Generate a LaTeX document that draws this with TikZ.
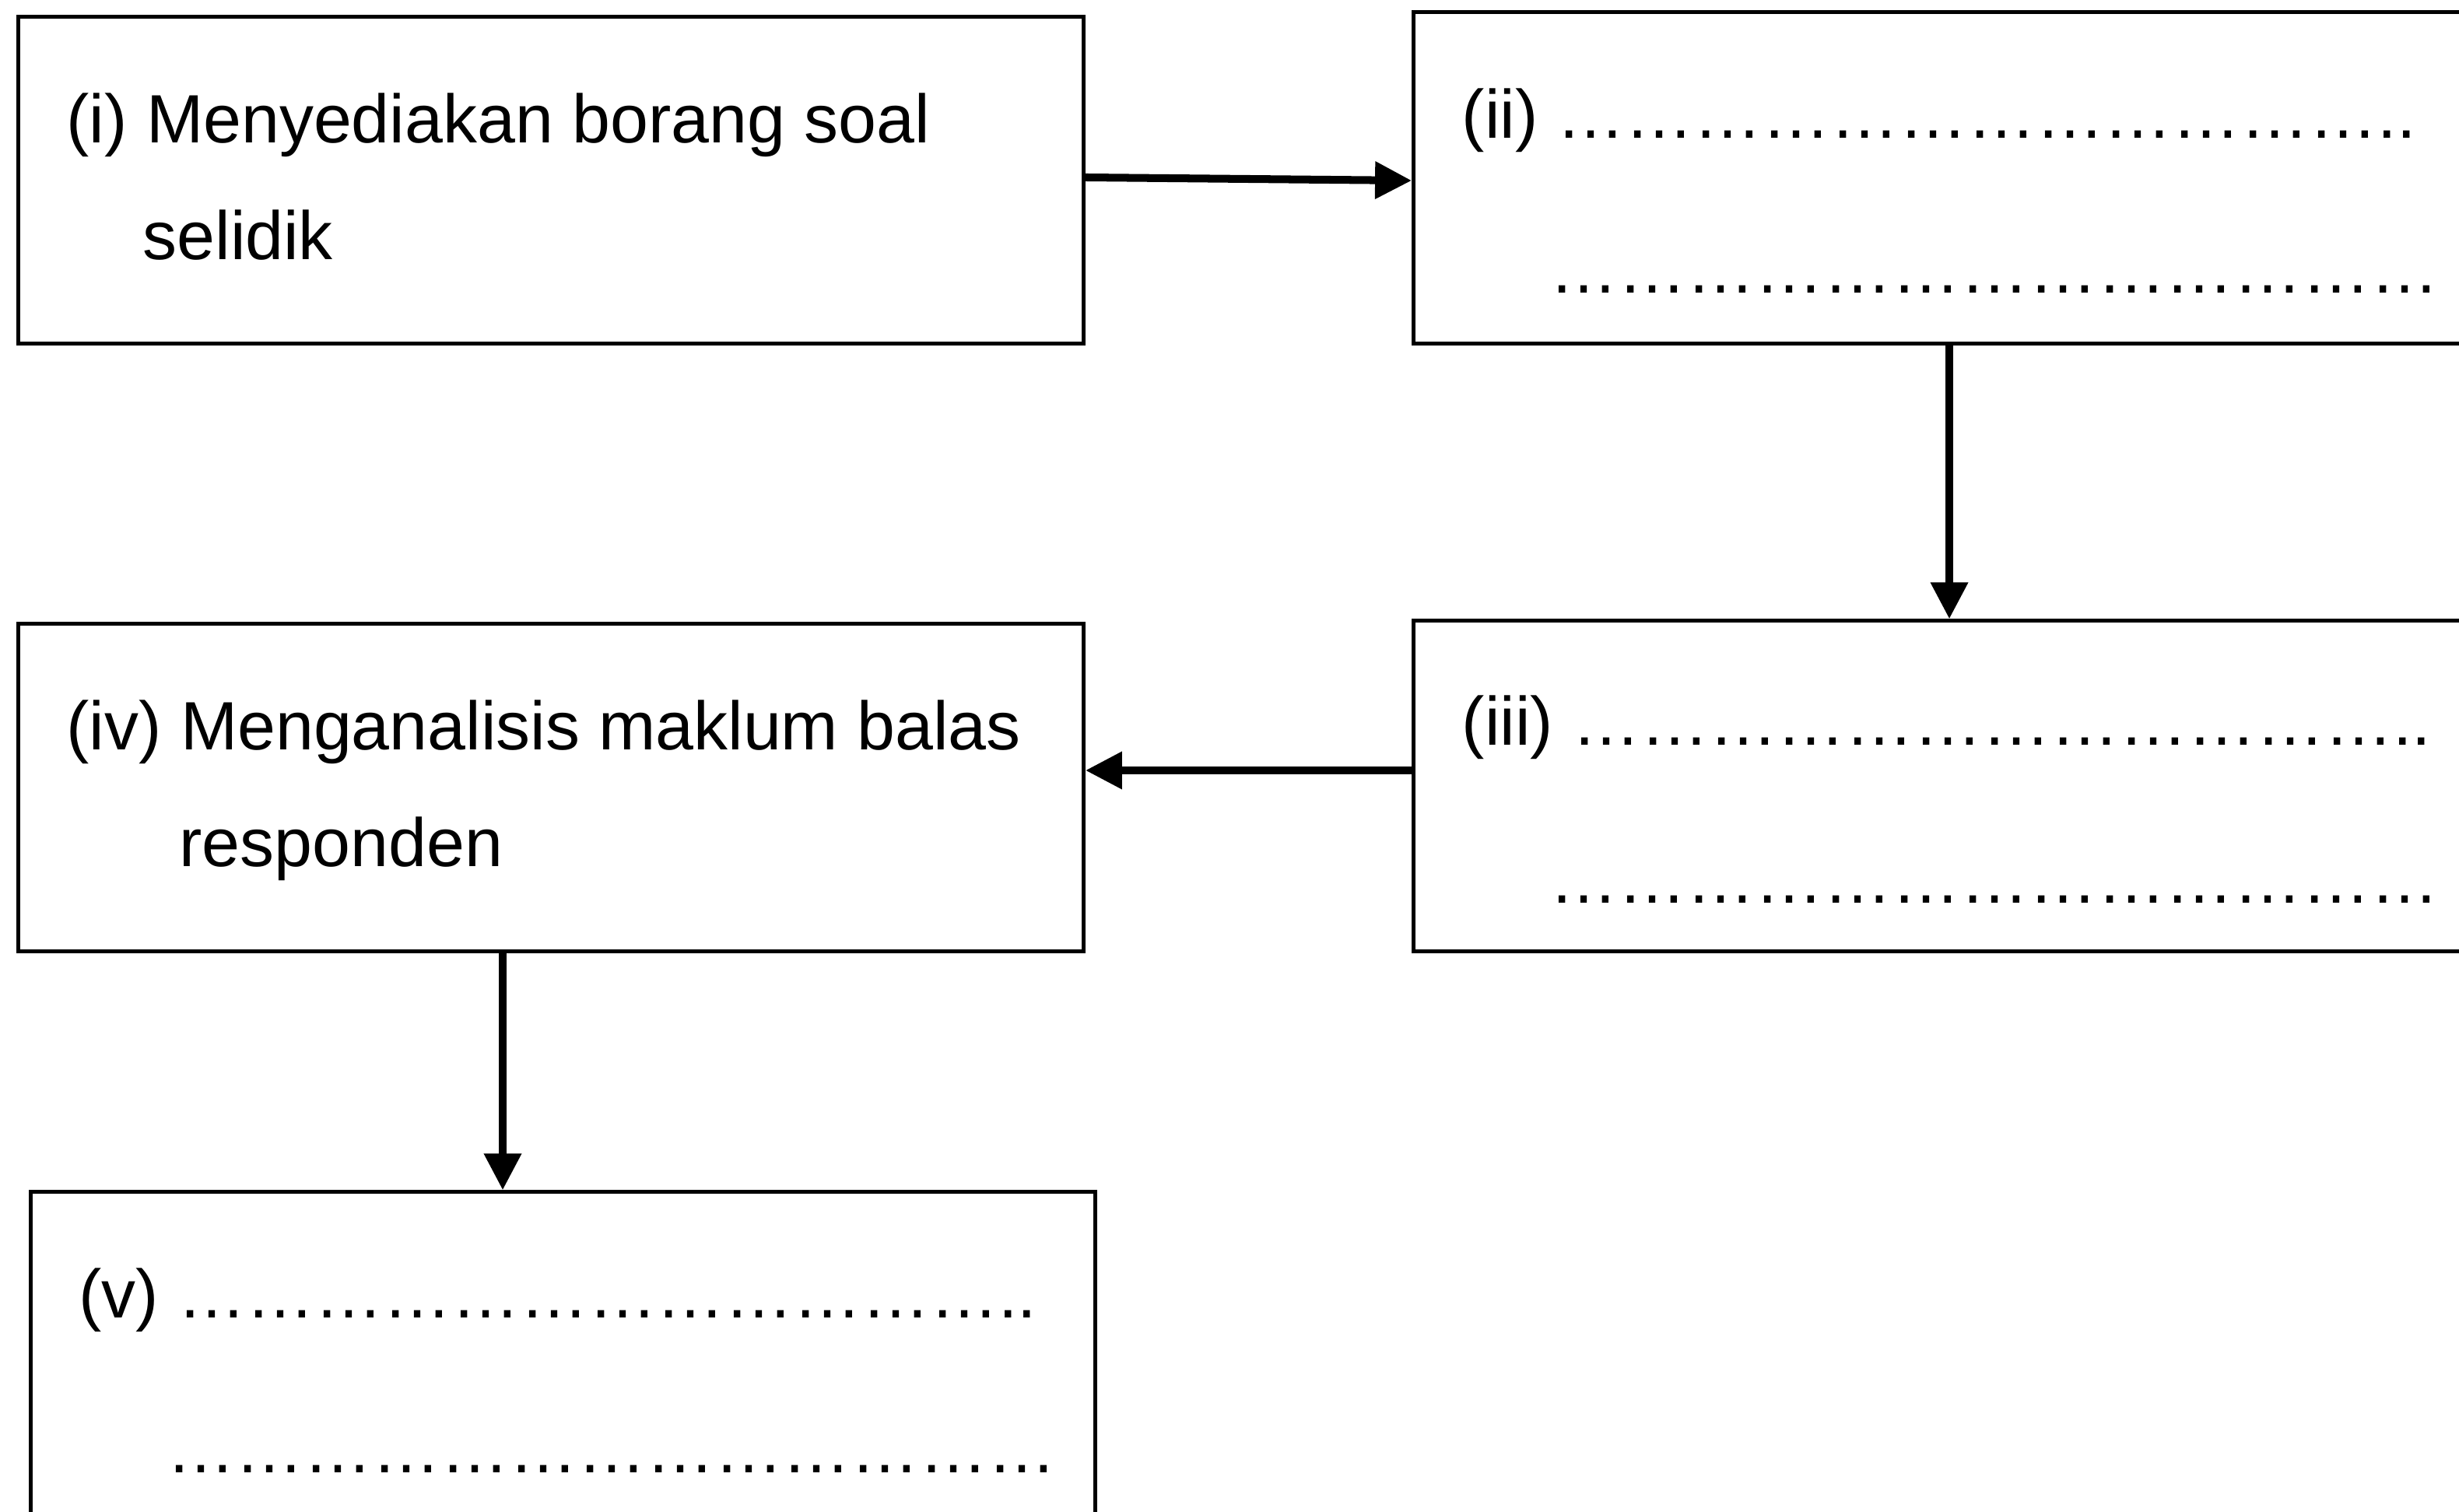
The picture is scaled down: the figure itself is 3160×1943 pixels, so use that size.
\documentclass[tikz,border=0pt]{standalone}
\usepackage{fontspec}
\setmainfont{Liberation Sans}
\usetikzlibrary{arrows.meta}
\newcommand\dd{\char"2026\relax}
\newcommand\rowA{\dd\dd\dd\dd\dd\dd\dd\dd\dd\dd\dd\dd..}
\newcommand\rowB{\dd\dd\dd\dd\dd\dd\dd\dd\dd\dd\dd\dd\dd}
\begin{document}
\begin{tikzpicture}[x=0.01cm,y=-0.01cm,
  box/.style={draw=black,line width=1.42pt,rectangle,inner sep=0pt},
  txt/.style={anchor=base west,inner sep=0pt,font=\fontsize{25pt}{30pt}\selectfont},
  arr/.style={line width=2.85pt,-{Triangle[length=0.47cm,width=0.46cm]}}]
\clip (0,0) rectangle (3160,1943);
\fill[white] (0,0) rectangle (3160,1943);
% boxes
\node[box,minimum width=13.68cm,minimum height=4.19cm] (boxi) at (708,231.5) {};
\node[box,minimum width=14.33cm,minimum height=4.25cm] (boxii) at (2533.5,228.5) {};
\node[box,minimum width=14.33cm,minimum height=4.24cm] (boxiii) at (2533.5,1010) {};
\node[box,minimum width=13.68cm,minimum height=4.20cm] (boxiv) at (708,1012) {};
\node[box,minimum width=13.67cm,minimum height=5.68cm] (boxv) at (723.5,1816) {};
% texts
\node[txt] (ti1) at (85,184) {(i) Menyediakan borang soal};
\node[txt] (ti2) at (183,334) {selidik};
\node[txt] (tii1) at (1878,178) {(ii) \rowA};
\node[txt] (tii2) at (1991,377) {\rowB};
\node[txt] (tiii1) at (1878,957) {(iii) \rowA};
\node[txt] (tiii2) at (1991,1160) {\rowB};
\node[txt] (tiv1) at (85,963) {(iv) Menganalisis maklum balas};
\node[txt] (tiv2) at (230,1113) {responden};
\node[txt] (tv1) at (101,1693) {(v) \rowA};
\node[txt] (tv2) at (214,1892) {\rowB};
% connectors
\coordinate (c2) at (2505,0);
\coordinate (c3) at (0,990);
\coordinate (c4) at (646,0);
\draw[arr] ([yshift=1pt]boxi.east) -- ([yshift=-1pt]boxii.west);
\draw[arr] (boxii.south -| c2) -- (boxiii.north -| c2);
\draw[arr] (boxiii.west |- c3) -- (boxiv.east |- c3);
\draw[arr] (boxiv.south -| c4) -- (boxv.north -| c4);
\end{tikzpicture}
\end{document}
